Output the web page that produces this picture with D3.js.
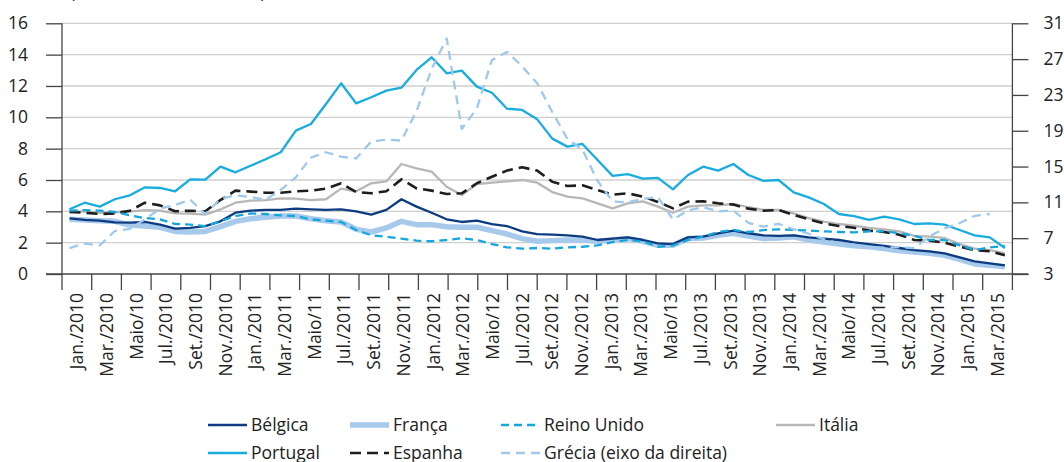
<!DOCTYPE html>
<html>
<head>
<meta charset="utf-8">
<script src="https://cdn.jsdelivr.net/npm/d3@7"></script>
<style>
  body { margin: 0; background: #fff; }
  svg { display: block; font-family: "Open Sans", "Noto Sans", sans-serif; }
</style>
</head>
<body>
<div id="chart"></div>
<script>
// tick labels on the time axis (every second month)
var tickLabels = ["Jan./2010","Mar./2010","Maio/10","Jul./2010","Set./2010","Nov./2010",
  "Jan./2011","Mar./2011","Maio/11","Jul./2011","Set./2011","Nov./2011",
  "Jan./2012","Mar./2012","Maio/12","Jul./2012","Set./2012","Nov./2012",
  "Jan./2013","Mar./2013","Maio/13","Jul./2013","Set./2013","Nov./2013",
  "Jan./2014","Mar./2014","Maio/14","Jul./2014","Set./2014","Nov./2014",
  "Jan./2015","Mar./2015"];

// monthly categories, Jan 2010 - Mar 2015
var months = d3.timeMonth.range(new Date(2010, 0, 1), new Date(2015, 3, 1)).map(d3.timeFormat("%Y-%m"));

var belgica = [3.55,3.45,3.40,3.30,3.28,3.32,3.15,2.89,2.94,3.06,3.36,3.91,4.04,4.09,4.09,4.17,4.13,4.09,4.13,4.00,
  3.79,4.09,4.77,4.30,3.91,3.49,3.32,3.40,3.19,3.06,2.72,2.55,2.51,2.47,2.38,2.17,2.26,2.34,2.17,1.96,
  1.91,2.34,2.38,2.60,2.77,2.60,2.47,2.43,2.47,2.34,2.26,2.17,2.02,1.91,1.79,1.66,1.53,1.45,1.32,1.06,
  0.81,0.68,0.55];
var franca = [3.49,3.45,3.40,3.36,3.12,3.06,2.98,2.72,2.68,2.72,3.02,3.36,3.53,3.62,3.70,3.70,3.53,3.40,3.32,2.85,
  2.68,2.94,3.36,3.15,3.15,3.02,2.98,2.98,2.77,2.55,2.26,2.09,2.13,2.17,2.17,2.09,2.17,2.26,2.09,1.83,
  1.83,2.26,2.30,2.47,2.60,2.43,2.26,2.30,2.38,2.17,2.04,1.91,1.80,1.74,1.62,1.49,1.40,1.32,1.19,0.94,
  0.64,0.55,0.47];
var reinoUnido = [4.04,4.08,4.04,3.96,3.74,3.57,3.49,3.19,3.15,3.06,3.36,3.70,3.87,3.83,3.74,3.70,3.49,3.40,3.32,2.81,
  2.47,2.38,2.26,2.13,2.09,2.17,2.28,2.17,1.91,1.70,1.62,1.66,1.62,1.70,1.74,1.83,2.04,2.17,2.09,1.74,
  1.83,2.17,2.38,2.68,2.81,2.68,2.80,2.85,2.81,2.77,2.72,2.68,2.66,2.72,2.72,2.60,2.43,2.17,2.17,1.83,
  1.53,1.70,1.79];
var italia = [4.00,3.98,3.90,3.94,3.98,4.08,4.04,3.87,3.85,3.79,4.12,4.55,4.68,4.72,4.83,4.81,4.72,4.77,5.45,5.28,
  5.79,5.91,7.02,6.74,6.53,5.57,5.04,5.74,5.83,5.91,6.00,5.83,5.23,4.94,4.83,4.51,4.19,4.51,4.64,4.30,
  3.91,4.30,4.38,4.38,4.47,4.26,4.09,4.09,3.87,3.57,3.34,3.19,3.08,2.94,2.85,2.72,2.43,2.38,2.30,1.91,
  1.62,1.53,1.32];
var portugal = [4.13,4.55,4.30,4.77,5.02,5.53,5.49,5.28,6.04,6.02,6.85,6.49,6.91,7.32,7.77,9.15,9.57,10.85,12.17,10.89,
  11.28,11.70,11.89,13.02,13.83,12.81,12.98,11.96,11.57,10.55,10.47,9.87,8.64,8.13,8.30,7.28,6.26,6.38,6.09,6.13,
  5.40,6.32,6.85,6.60,7.02,6.32,5.94,6.00,5.21,4.89,4.47,3.83,3.70,3.45,3.66,3.49,3.19,3.23,3.15,2.81,
  2.47,2.34,1.66];
var espanha = [3.96,3.91,3.83,3.87,4.04,4.55,4.38,4.00,4.04,4.00,4.72,5.32,5.26,5.19,5.19,5.28,5.32,5.45,5.79,5.23,
  5.15,5.28,6.04,5.47,5.32,5.11,5.15,5.79,6.21,6.60,6.81,6.60,5.89,5.62,5.66,5.36,5.06,5.15,4.94,4.60,
  4.19,4.62,4.64,4.51,4.43,4.17,4.04,4.09,3.77,3.49,3.23,3.06,2.95,2.77,2.68,2.51,2.17,2.13,2.00,1.74,
  1.53,1.45,1.19];
// right-hand axis, ends Feb 2015
var grecia = [5.9,6.4,6.2,7.8,8.05,9.1,10.3,10.7,11.3,9.7,11.4,11.8,11.6,11.3,12.4,13.8,16.0,16.6,16.1,15.9,
  17.8,18.0,17.9,21.2,25.9,29.3,19.2,21.5,26.9,27.8,26.2,24.3,21.1,18.1,16.9,13.4,11.1,11.0,11.4,11.6,
  9.1,10.1,10.45,10.0,10.1,8.7,8.3,8.6,8.0,7.5,6.9,6.4,6.3,6.0,5.95,6.0,5.9,7.2,8.1,8.7,
  9.5,9.7];

var leftTicks = [0, 2, 4, 6, 8, 10, 12, 14, 16];
var rightTicks = [3, 7, 11, 15, 19, 23, 27, 31];

var W = 1064, H = 462,
    plotL = 62, plotR = 1012.4, plotT = 23.3, plotB = 274,
    fs = 17.5;

var svg = d3.select("#chart").append("svg")
    .attr("width", W)
    .attr("height", H);

var x = d3.scalePoint().domain(months).range([plotL, plotR]).padding(0.5);
var xLab = d3.scaleBand().domain(tickLabels).range([plotL, plotR]).padding(0);
var yL = d3.scaleLinear().domain([0, 16]).range([plotB, plotT]);
var yR = d3.scaleLinear().domain([3, 31]).range([plotB, plotT]);

// subtitle, mostly above the top edge as in the source
svg.append("text")
    .attr("x", 70).attr("y", -2.5)
    .attr("font-size", fs).attr("fill", "#333")
    .text("(em %, médias mensais)");

// gridlines
svg.append("g").selectAll("line")
  .data(leftTicks.filter(d => d > 0))
  .join("line")
    .attr("x1", plotL).attr("x2", plotR)
    .attr("y1", d => yL(d)).attr("y2", d => yL(d))
    .attr("stroke", "#cfcfcf").attr("stroke-width", 1.3);

// axes
var axL = svg.append("g")
    .attr("transform", "translate(" + plotL + ",0)")
    .call(d3.axisLeft(yL).tickValues(leftTicks).tickSize(16).tickPadding(18));
var axR = svg.append("g")
    .attr("transform", "translate(" + plotR + ",0)")
    .call(d3.axisRight(yR).tickValues(rightTicks).tickSize(16).tickPadding(15));
[axL, axR].forEach(function(a) {
  a.select(".domain").attr("stroke", "#444").attr("stroke-width", 1.3).attr("d", "M0," + plotT + "V" + plotB);
  a.selectAll(".tick line").attr("stroke", "#444").attr("stroke-width", 1.3);
  a.selectAll(".tick text").attr("font-size", fs).attr("fill", "#222")
    .attr("font-family", "'Open Sans', sans-serif");
});

// bottom axis line
svg.append("line")
    .attr("x1", plotL - 16).attr("x2", plotR + 16)
    .attr("y1", plotB).attr("y2", plotB)
    .attr("stroke", "#444").attr("stroke-width", 1.3);

// tick marks at the edges of each two-month group
var edges = tickLabels.map(d => xLab(d)).concat([plotR]);
svg.append("g").selectAll("line")
  .data(edges)
  .join("line")
    .attr("x1", d => d).attr("x2", d => d)
    .attr("y1", plotB).attr("y2", plotB + 16)
    .attr("stroke", "#444").attr("stroke-width", 1.3);

svg.append("g").selectAll("text")
  .data(tickLabels)
  .join("text")
    .attr("transform", d => "translate(" + (xLab(d) + xLab.bandwidth() / 2) + "," + (plotB + 19) + ") rotate(-90)")
    .attr("text-anchor", "end")
    .attr("dy", "0.36em")
    .attr("font-size", fs)
    .attr("fill", "#222")
    .text(d => d);

// series
var series = [
  {name: "França", values: franca, axis: yL, color: "#a6c9ec", width: 5.5, dash: null},
  {name: "Itália", values: italia, axis: yL, color: "#b7b7b7", width: 2.3, dash: null},
  {name: "Espanha", values: espanha, axis: yL, color: "#1e1e1e", width: 2.6, dash: "11,6"},
  {name: "Bélgica", values: belgica, axis: yL, color: "#0d3b80", width: 2.3, dash: null},
  {name: "Reino Unido", values: reinoUnido, axis: yL, color: "#15a6dc", width: 2.3, dash: "8,5"},
  {name: "Portugal", values: portugal, axis: yL, color: "#19acdf", width: 2.3, dash: null},
  {name: "Grécia (eixo da direita)", values: grecia, axis: yR, color: "#9fc8ee", width: 2.3, dash: "9,6"}
];

series.forEach(function(s) {
  var line = d3.line()
      .x((d, i) => x(months[i]))
      .y(d => s.axis(d));
  svg.append("path")
      .datum(s.values)
      .attr("d", line)
      .attr("fill", "none")
      .attr("stroke", s.color)
      .attr("stroke-width", s.width)
      .attr("stroke-linejoin", "round")
      .attr("stroke-dasharray", s.dash);
});

// legend
var legendPos = {
  "Bélgica": [208, 425], "França": [350, 425], "Reino Unido": [501, 425], "Itália": [776, 425],
  "Portugal": [208, 453], "Espanha": [350, 453], "Grécia (eixo da direita)": [501, 453]
};
var leg = svg.append("g");
series.forEach(function(s) {
  var p = legendPos[s.name];
  leg.append("line")
      .attr("x1", p[0]).attr("x2", p[0] + 39)
      .attr("y1", p[1]).attr("y2", p[1])
      .attr("stroke", s.color)
      .attr("stroke-width", s.width)
      .attr("stroke-dasharray", s.dash);
  leg.append("text")
      .attr("x", p[0] + 43).attr("y", p[1])
      .attr("dy", "0.35em")
      .attr("font-size", fs)
      .attr("fill", "#222")
      .text(s.name);
});
</script>
</body>
</html>
